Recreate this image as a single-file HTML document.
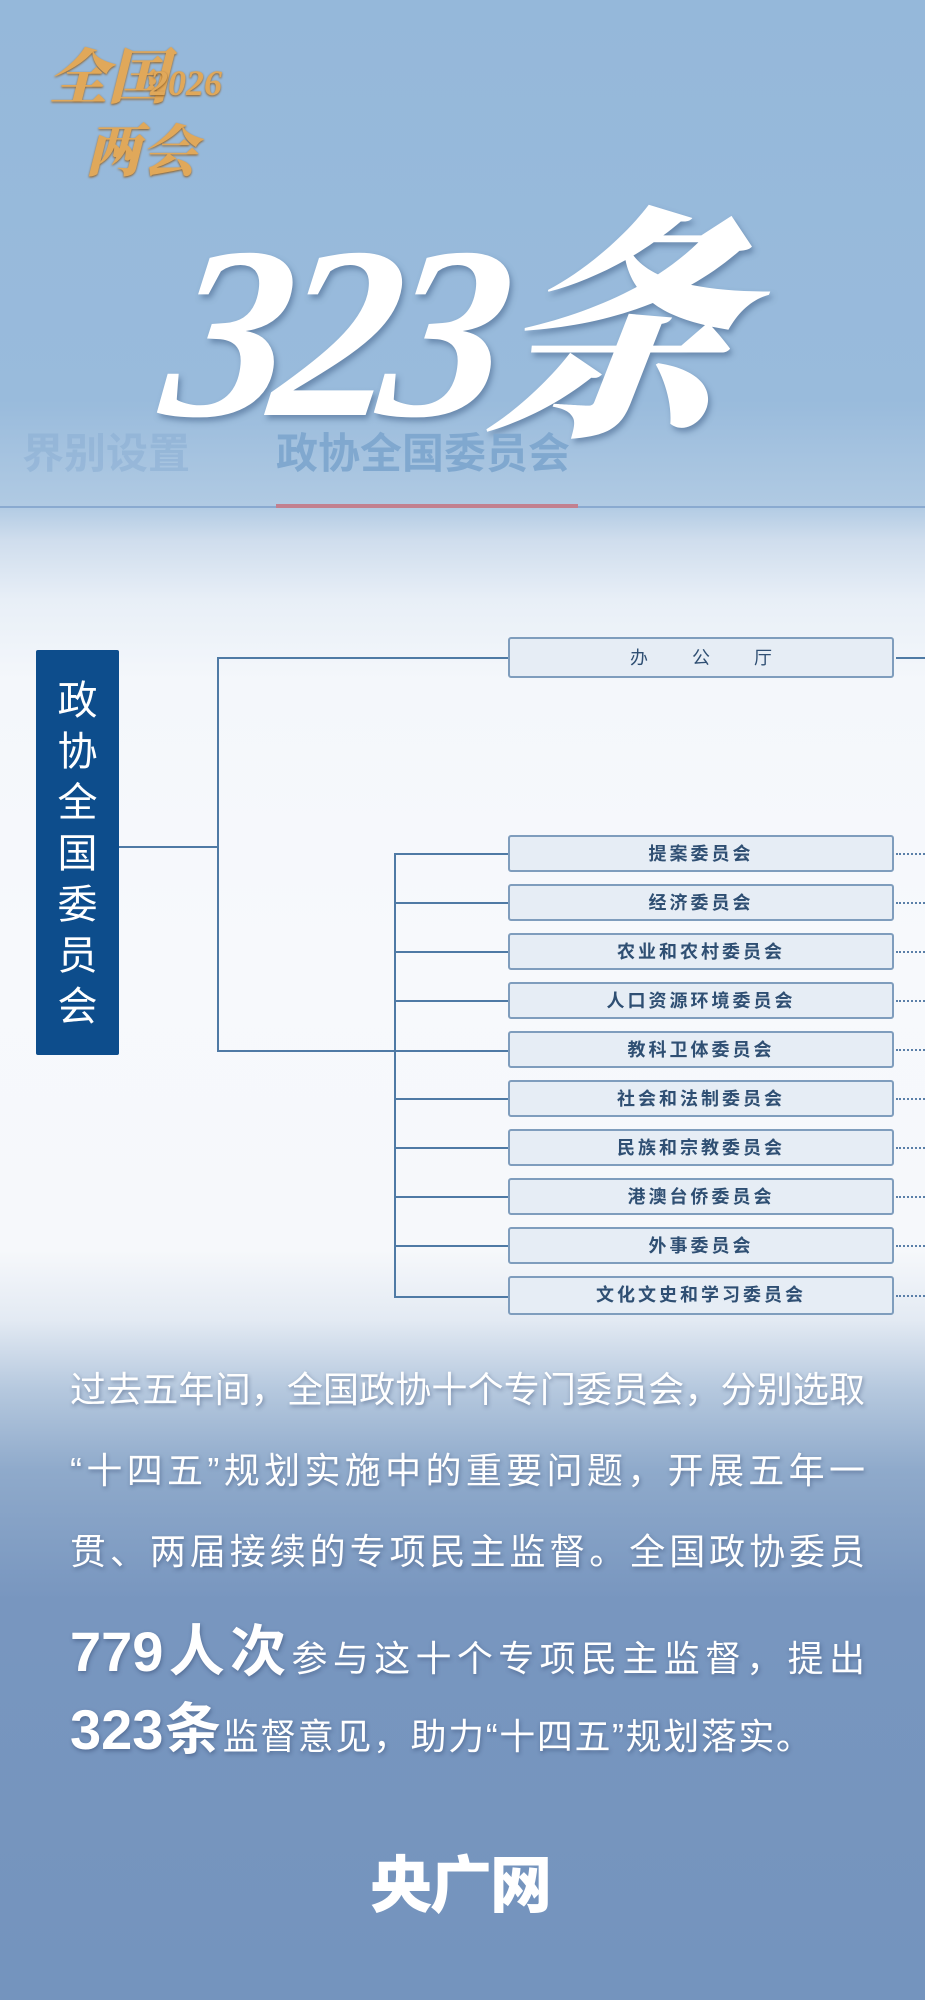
<!DOCTYPE html>
<html><head><meta charset="utf-8">
<style>
html,body{margin:0;padding:0}
body{width:925px;height:2000px;position:relative;overflow:hidden;
font-family:"Liberation Sans","Noto Sans CJK SC",sans-serif;
background:linear-gradient(to bottom,#95b8da 0px,#99bbdc 400px,#b0cae3 505px,#cfdded 540px,#e8eff7 600px,#f4f7fb 680px,#f7f9fc 950px,#f6f8fb 1250px,#e3eaf3 1320px,#b5c8de 1390px,#8faacb 1470px,#7896bf 1600px,#7494be 2000px);}
.a{position:absolute}
.logo{left:48px;top:40px;color:#e0a85a;font-family:"Noto Serif CJK SC",serif;font-weight:900;font-style:italic;text-shadow:0 1px 2px #8a5a20}
.big{left:170px;top:210px;font-size:245px;color:#fff;font-family:"Liberation Serif","Noto Serif CJK SC",serif;font-weight:900;font-style:italic;letter-spacing:-14px;text-shadow:3px 4px 6px rgba(60,90,130,.5);line-height:1;transform:skewX(-8deg)}
.tab{top:426px;font-size:42px;font-weight:bold;line-height:56px}
.node{left:508px;width:386px;height:37px;border:2px solid #7f9dbd;border-radius:3px;background:#e6edf5;box-sizing:border-box;text-align:center;font-size:18px;line-height:34px;color:#2f4f73;letter-spacing:3px;font-weight:bold}
.h{height:2px;background:#4f7aa5}
.v{width:2px;background:#4f7aa5}
.dot{left:896px;width:29px;border-top:2px dotted #5a7fa8;height:0}
.p{left:70px;width:795px;color:#fff;font-size:36px;text-align:justify;text-align-last:justify;text-shadow:1px 2px 4px rgba(40,60,100,.45);white-space:nowrap;line-height:1}
.p b{font-size:56px}
</style></head><body>
<div class="a logo" style="font-size:60px;top:30px">全国</div>
<div class="a logo" style="font-size:36px;left:150px;top:62px;font-family:'Liberation Serif',serif">2026</div>
<div class="a logo" style="font-size:56px;left:85px;top:108px">两会</div>
<div class="a big">323条</div>
<div class="a tab" style="left:22px;color:rgba(140,175,212,.6)">界别设置</div>
<div class="a tab" style="left:276px;color:#80a8cf">政协全国委员会</div>
<div class="a" style="left:0;top:506px;width:925px;height:2px;background:#8aaad0"></div>
<div class="a" style="left:276px;top:504px;width:302px;height:4px;background:#c2808f"></div>

<div class="a" style="left:36px;top:650px;width:83px;height:405px;background:#0d4d8c;border-radius:2px;color:#fff;font-size:40px;text-align:center;line-height:51px;padding-top:26px;box-sizing:border-box">政<br>协<br>全<br>国<br>委<br>员<br>会</div>
<div class="a h" style="left:119px;top:846px;width:99px"></div>
<div class="a v" style="left:217px;top:657px;height:395px"></div>
<div class="a h" style="left:217px;top:657px;width:291px"></div>
<div class="a h" style="left:217px;top:1050px;width:291px"></div>
<div class="a v" style="left:394px;top:854px;height:444px"></div>
<div class="a node" style="top:637px;height:41px;line-height:38px;font-weight:normal;letter-spacing:44px;padding-left:44px">办公厅</div>
<div class="a h" style="left:896px;top:657px;width:29px"></div>

<div class="a node" style="top:835px">提案委员会</div>
<div class="a node" style="top:884px">经济委员会</div>
<div class="a node" style="top:933px">农业和农村委员会</div>
<div class="a node" style="top:982px">人口资源环境委员会</div>
<div class="a node" style="top:1031px">教科卫体委员会</div>
<div class="a node" style="top:1080px">社会和法制委员会</div>
<div class="a node" style="top:1129px">民族和宗教委员会</div>
<div class="a node" style="top:1178px">港澳台侨委员会</div>
<div class="a node" style="top:1227px">外事委员会</div>
<div class="a node" style="top:1276px;height:39px">文化文史和学习委员会</div>

<div class="a h" style="left:394px;top:853px;width:114px"></div>
<div class="a h" style="left:394px;top:902px;width:114px"></div>
<div class="a h" style="left:394px;top:951px;width:114px"></div>
<div class="a h" style="left:394px;top:1000px;width:114px"></div>
<div class="a h" style="left:394px;top:1098px;width:114px"></div>
<div class="a h" style="left:394px;top:1147px;width:114px"></div>
<div class="a h" style="left:394px;top:1196px;width:114px"></div>
<div class="a h" style="left:394px;top:1245px;width:114px"></div>
<div class="a h" style="left:394px;top:1296px;width:114px"></div>

<div class="a dot" style="top:853px"></div>
<div class="a dot" style="top:902px"></div>
<div class="a dot" style="top:951px"></div>
<div class="a dot" style="top:1000px"></div>
<div class="a dot" style="top:1049px"></div>
<div class="a dot" style="top:1098px"></div>
<div class="a dot" style="top:1147px"></div>
<div class="a dot" style="top:1196px"></div>
<div class="a dot" style="top:1245px"></div>
<div class="a dot" style="top:1295px"></div>

<div class="a p" style="top:1372px">过去五年间，全国政协十个专门委员会，分别选取</div>
<div class="a p" style="top:1453px">“十四五”规划实施中的重要问题，开展五年一</div>
<div class="a p" style="top:1534px">贯、两届接续的专项民主监督。全国政协委员</div>
<div class="a p" style="top:1622px;line-height:60px"><b>779人次</b>参与这十个专项民主监督，提出</div>
<div class="a p" style="top:1700px;line-height:60px;width:742px"><b>323条</b>监督意见，助力“十四五”规划落实。</div>

<div class="a" style="left:370px;top:1835px;font-size:62px;font-weight:900;color:#fff;letter-spacing:-2px">央广网</div>
</body></html>
